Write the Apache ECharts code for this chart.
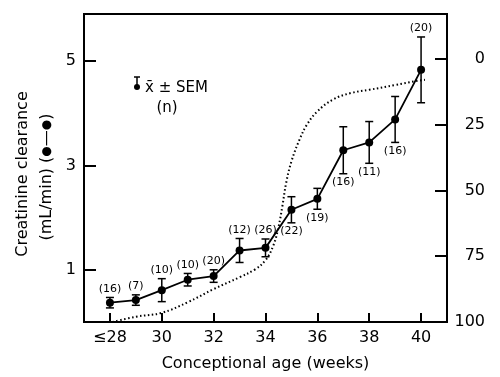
<!DOCTYPE html>
<html>
<head>
<meta charset="utf-8">
<script src="https://cdn.jsdelivr.net/npm/echarts@6/dist/echarts.min.js"></script>
<style>
  html, body { margin: 0; padding: 0; background: #fff; }
  #chart { width: 500px; height: 377px; }
</style>
</head>
<body>
<div id="chart"></div>
<script>
// conceptional age (weeks), mean clearance, SEM, n
const ages = [28, 29, 30, 31, 32, 33, 34, 35, 36, 37, 38, 39, 40];
const clearance = [0.37, 0.42, 0.61, 0.81, 0.88, 1.37, 1.42, 2.15, 2.36, 3.29, 3.44, 3.88, 4.83];
const sem = [0.1, 0.1, 0.22, 0.12, 0.12, 0.23, 0.17, 0.25, 0.2, 0.45, 0.4, 0.44, 0.63];
const counts = [16, 7, 10, 10, 20, 12, 26, 22, 19, 16, 11, 16, 20];
// 1 = label above the bar, -1 = below
const labelSide = [1, 1, 1, 1, 1, 1, 1, -1, -1, -1, -1, -1, 1];

// dotted curve, read against the right (inverted) axis
const curveAge = [28.1, 29, 30, 31, 32, 33, 33.6, 34, 34.3, 34.5, 34.65, 34.8, 35, 35.3, 35.6, 36, 36.6, 37.3, 38, 39, 39.8, 40.15];
const curveVal = [100, 98, 96.5, 92.5, 87.5, 83, 80, 76.5, 71, 64, 56, 47, 39, 31, 25, 20, 15.5, 13, 11.8, 10, 8.5, 8];

const xTicks = [28, 30, 32, 34, 36, 38, 40];
const leftTicks = [1, 3, 5];
const rightTicks = [0, 25, 50, 75, 100];

const FONT = 'DejaVu Sans';

const chart = echarts.init(document.getElementById('chart'));

const meanData = ages.map((a, i) => [a, clearance[i]]);
const barData = ages.map((a, i) => [a, clearance[i], sem[i], counts[i], labelSide[i]]);
const curveData = curveAge.map((a, i) => [a, curveVal[i]]);

function renderBar(params, api) {
  const x = api.value(0), m = api.value(1), e = api.value(2);
  const n = api.value(3), side = api.value(4);
  const hi = api.coord([x, m + e]);
  const lo = api.coord([x, m - e]);
  const w = 4;
  const st = { stroke: '#000', lineWidth: 1.5 };
  return {
    type: 'group',
    children: [
      { type: 'line', shape: { x1: hi[0], y1: hi[1], x2: lo[0], y2: lo[1] }, style: st },
      { type: 'line', shape: { x1: hi[0] - w, y1: hi[1], x2: hi[0] + w, y2: hi[1] }, style: st },
      { type: 'line', shape: { x1: lo[0] - w, y1: lo[1], x2: lo[0] + w, y2: lo[1] }, style: st },
      {
        type: 'text',
        x: hi[0],
        y: side > 0 ? hi[1] - 3 : lo[1] + 3,
        style: {
          text: '(' + n + ')',
          align: 'center',
          verticalAlign: side > 0 ? 'bottom' : 'top',
          font: '11px ' + FONT,
          fill: '#000'
        }
      }
    ]
  };
}

const option = {
  animation: false,
  backgroundColor: '#fff',
  grid: {
    left: 84, right: 53, top: 14, bottom: 55,
    show: true, borderColor: '#000', borderWidth: 2
  },
  xAxis: {
    type: 'value',
    min: 27, max: 41,
    name: 'Conceptional age (weeks)',
    nameLocation: 'middle',
    nameGap: 34,
    nameTextStyle: { fontFamily: FONT, fontSize: 16, color: '#000' },
    axisLine: { lineStyle: { color: '#000', width: 2 } },
    axisTick: { inside: true, length: 9, customValues: xTicks, lineStyle: { color: '#000', width: 2 } },
    axisLabel: {
      customValues: xTicks,
      margin: 8,
      fontFamily: FONT, fontSize: 16, color: '#000',
      formatter: v => (v === 28 ? '\u226428' : String(v))
    },
    splitLine: { show: false }
  },
  yAxis: [
    {
      type: 'value',
      min: 0, max: 5.9,
      axisLine: { show: true, lineStyle: { color: '#000', width: 2 } },
      axisTick: { show: true, inside: true, length: 12, customValues: leftTicks, lineStyle: { color: '#000', width: 2 } },
      axisLabel: { customValues: leftTicks, margin: 8, fontFamily: FONT, fontSize: 16, color: '#000' },
      splitLine: { show: false }
    },
    {
      type: 'value',
      position: 'right',
      inverse: true,
      min: -17, max: 100,
      axisLine: { show: true, lineStyle: { color: '#000', width: 2 } },
      axisTick: { show: true, inside: true, length: 12, customValues: rightTicks, lineStyle: { color: '#000', width: 2 } },
      axisLabel: { customValues: rightTicks, margin: 38, align: 'right', fontFamily: FONT, fontSize: 16, color: '#000' },
      splitLine: { show: false }
    }
  ],
  graphic: [
    {
      type: 'text', x: 23, y: 174, rotation: Math.PI / 2,
      style: { text: 'Creatinine clearance', align: 'center', verticalAlign: 'middle', font: '16px ' + FONT, fill: '#000' }
    },
    {
      type: 'text', x: 47, y: 177, rotation: Math.PI / 2,
      style: {
        text: '(mL/min) ({d|\u25CF}\u2014{d|\u25CF})',
        align: 'center', verticalAlign: 'middle', font: '16px ' + FONT, fill: '#000',
        rich: { d: { fontFamily: FONT, fontSize: 12, fill: '#000' } }
      }
    },
    { type: 'line', shape: { x1: 137, y1: 77, x2: 137, y2: 87 }, style: { stroke: '#000', lineWidth: 1.5 } },
    { type: 'line', shape: { x1: 134, y1: 77, x2: 140, y2: 77 }, style: { stroke: '#000', lineWidth: 1.5 } },
    { type: 'circle', shape: { cx: 137, cy: 87, r: 3 }, style: { fill: '#000' } },
    {
      type: 'text', x: 145, y: 88,
      style: { text: 'x\u0304 \u00B1 SEM', align: 'left', verticalAlign: 'middle', font: '15px ' + FONT, fill: '#000' }
    },
    {
      type: 'text', x: 167, y: 108,
      style: { text: '(n)', align: 'center', verticalAlign: 'middle', font: '15px ' + FONT, fill: '#000' }
    }
  ],
  series: [
    {
      type: 'line',
      yAxisIndex: 1,
      data: curveData,
      smooth: 0.4,
      symbol: 'none',
      lineStyle: { color: '#000', width: 2, type: [1.5, 2.5] },
      z: 1
    },
    {
      type: 'custom',
      data: barData,
      renderItem: renderBar,
      z: 2
    },
    {
      type: 'line',
      data: meanData,
      symbol: 'circle',
      symbolSize: 8,
      itemStyle: { color: '#000' },
      lineStyle: { color: '#000', width: 1.8 },
      z: 3
    }
  ]
};

chart.setOption(option);
</script>
</body>
</html>
